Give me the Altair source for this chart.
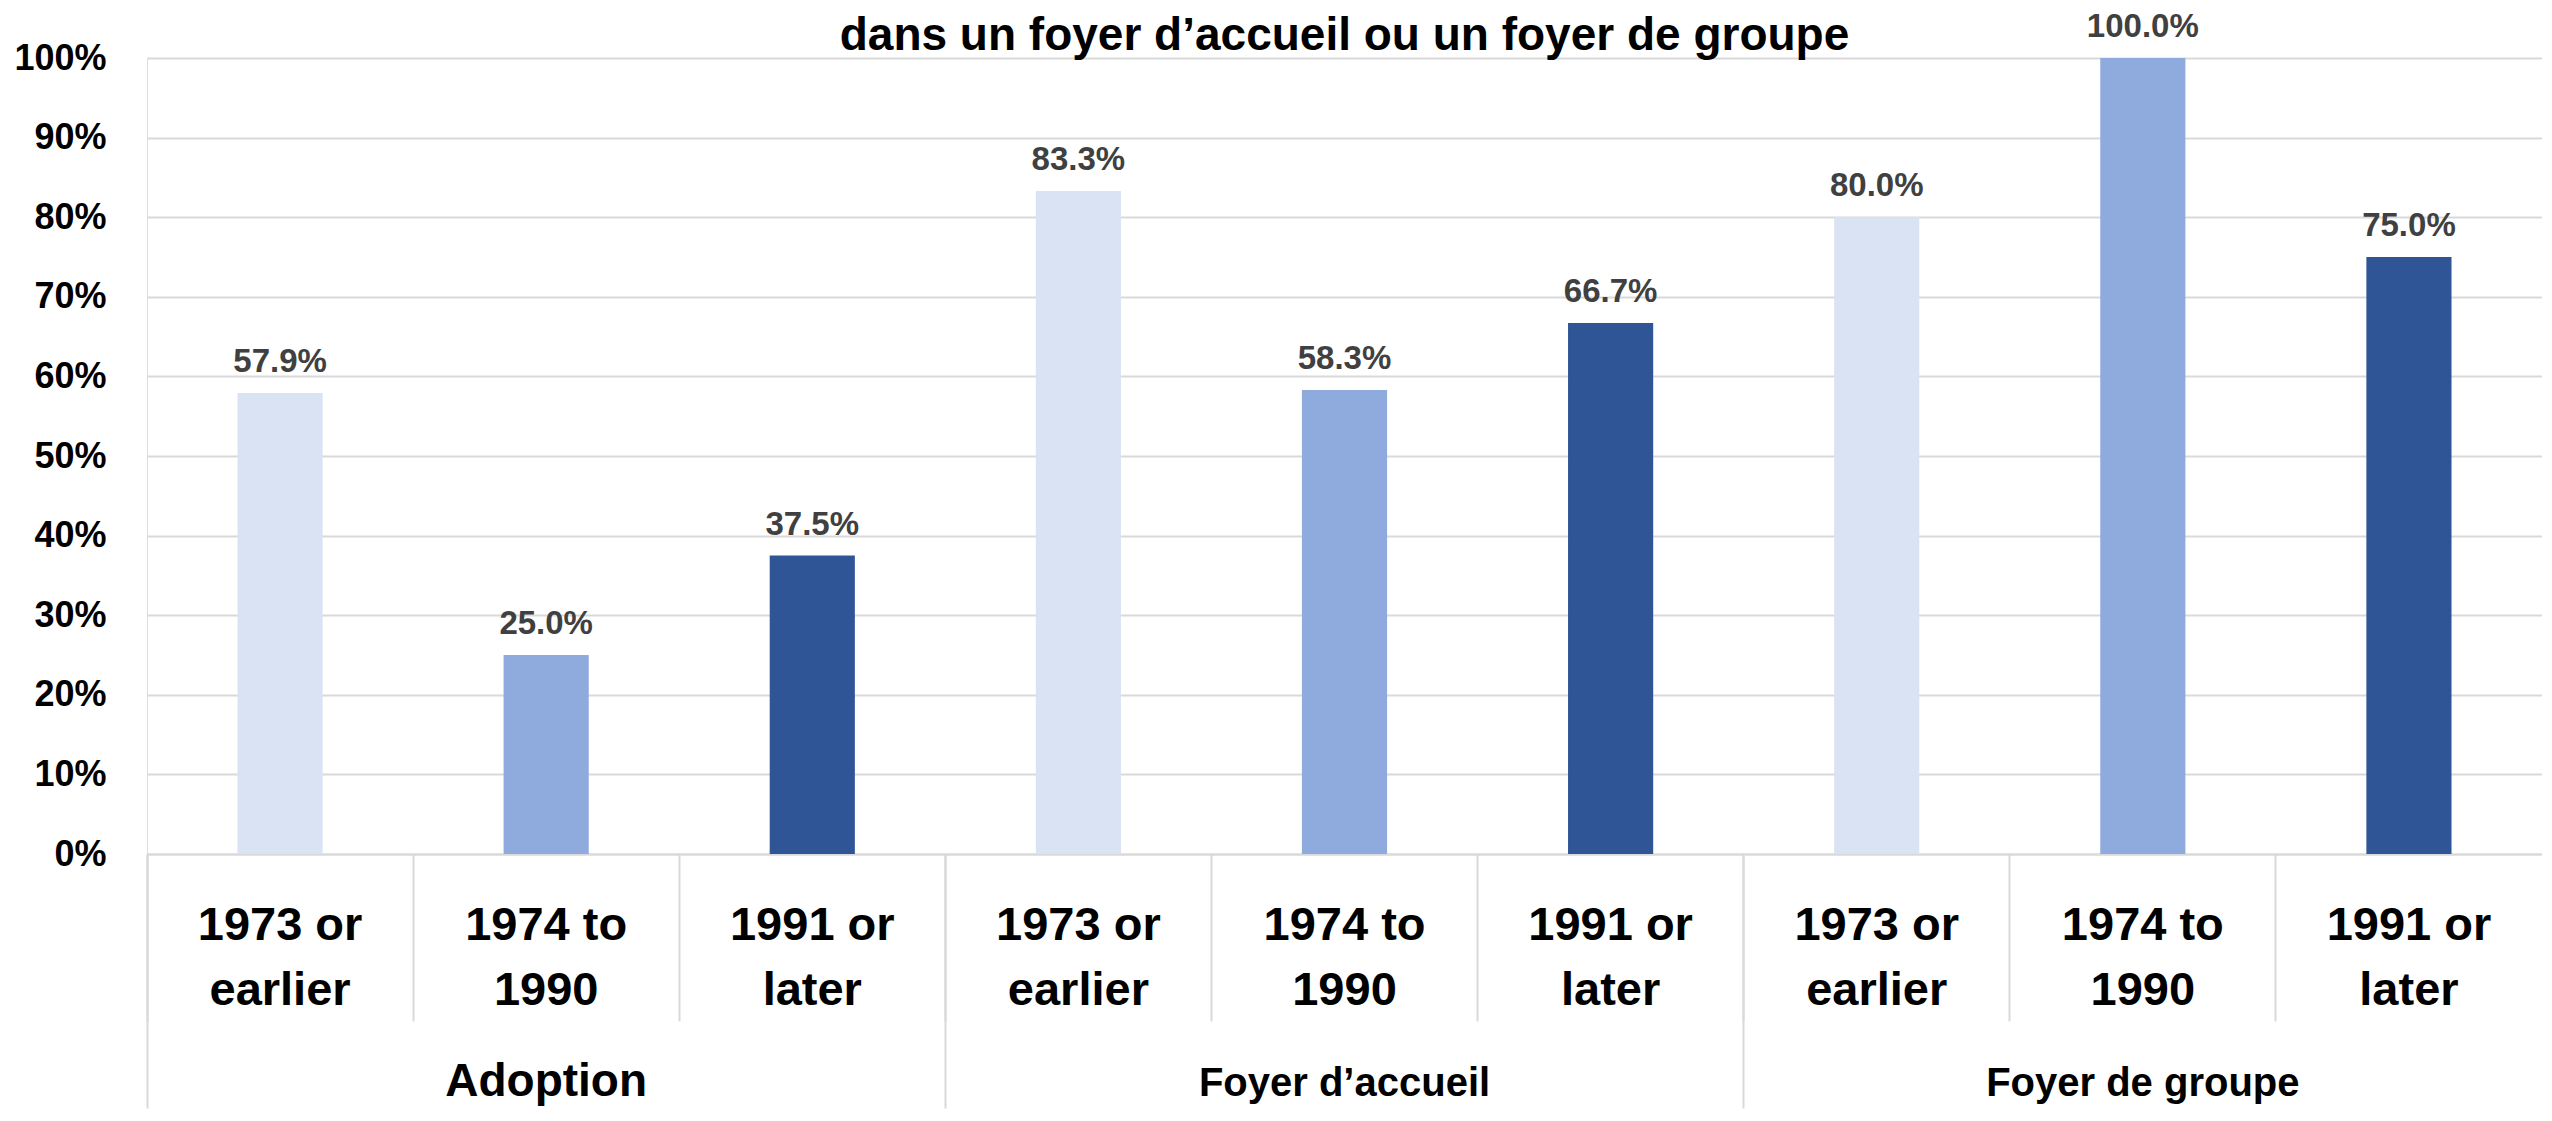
import altair as alt
import pandas as pd

# ---- data ----
groups = ["Adoption", "Foyer d’accueil", "Foyer de groupe"]
periods = ["1973 or earlier", "1974 to 1990", "1991 or later"]
values_adoption = [0.579, 0.250, 0.375]
values_accueil = [0.833, 0.583, 0.667]
values_groupe = [0.800, 1.000, 0.750]
y_ticks = [0.0, 0.1, 0.2, 0.3, 0.4, 0.5, 0.6, 0.7, 0.8, 0.9, 1.0]
title_text = "dans un foyer d’accueil ou un foyer de groupe"
colors = ["#DAE3F3", "#8FAADC", "#2F5597"]

rows = []
for g, vals in zip(groups, [values_adoption, values_accueil, values_groupe]):
    for p, v in zip(periods, vals):
        rows.append({"group": g, "period": p, "key": g + "|" + p, "value": v})
df = pd.DataFrame(rows)
keys = list(df["key"])
gdf = pd.DataFrame({"group": groups})

FONT = "Liberation Sans, Arial, sans-serif"
W = 2395
H = 796
GRID = "#d9d9d9"

cat_label = "split(datum.label,'|')[1]"
label_expr = (
    f"[substring({cat_label},0,lastindexof({cat_label},' ')), "
    f"substring({cat_label},lastindexof({cat_label},' ')+1)]"
)

x_cat = alt.X(
    "key:N",
    sort=keys,
    scale=alt.Scale(paddingInner=0, paddingOuter=0),
    axis=alt.Axis(
        title=None,
        bandPosition=0,
        tickSize=167,
        tickColor=GRID,
        tickWidth=2,
        domainColor=GRID,
        domainWidth=2,
        labelExpr=label_expr,
        labelFont=FONT,
        labelFontSize=47,
        labelFontWeight="bold",
        labelColor="black",
        labelLineHeight=65,
        labelBaseline="alphabetic",
        labelPadding=-82,
        labelAngle=0,
        labelLimit=600,
        labelOverlap=False,
    ),
)

y_enc = alt.Y(
    "value:Q",
    scale=alt.Scale(domain=[0, 1]),
    axis=alt.Axis(
        values=y_ticks,
        format=".0%",
        title=None,
        labelFont=FONT,
        labelFontSize=36,
        labelFontWeight="bold",
        labelColor="black",
        labelPadding=41,
        ticks=False,
        domain=False,
        gridColor=GRID,
        gridWidth=2,
    ),
)

base = alt.Chart(df)

bars = base.mark_bar(width=alt.RelativeBandSize(0.32)).encode(
    x=x_cat,
    y=y_enc,
    color=alt.Color("period:N", scale=alt.Scale(domain=periods, range=colors), legend=None),
)

labels = base.mark_text(
    baseline="alphabetic",
    dy=-21,
    font=FONT,
    fontSize=33,
    fontWeight="bold",
    color="#404040",
).encode(
    x=alt.X("key:N", sort=keys),
    y=alt.Y("value:Q"),
    text=alt.Text("value:Q", format=".1%"),
)

x_grp = alt.X(
    "group:N",
    sort=groups,
    scale=alt.Scale(paddingInner=0, paddingOuter=0),
    axis=alt.Axis(
        orient="bottom",
        title=None,
        bandPosition=0,
        tickSize=254,
        tickColor=GRID,
        tickWidth=2,
        domain=False,
        labelFont=FONT,
        labelFontSize={"condition": {"test": "datum.value == 'Adoption'", "value": 46}, "value": 40},
        labelFontWeight="bold",
        labelColor="black",
        labelBaseline="alphabetic",
        labelPadding=-13,
        labelAngle=0,
        labelLimit=800,
        labelOverlap=False,
    ),
)

group_layer = alt.Chart(gdf).mark_bar(opacity=0).encode(x=x_grp)

chart = (
    alt.layer(alt.layer(bars, labels), group_layer)
    .resolve_scale(x="independent")
    .properties(
        width=W,
        height=H,
        padding={"left": 5, "top": 3, "right": 0, "bottom": 0},
        title=alt.TitleParams(
            title_text,
            font=FONT,
            fontSize=46,
            fontWeight="bold",
            color="black",
            anchor="middle",
            frame="group",
            offset=-49,
        ),
    )
    .configure_view(stroke=None)
    .configure(background="white")
)

chart.save("out.html", embed_options={"renderer": "svg", "actions": False})
